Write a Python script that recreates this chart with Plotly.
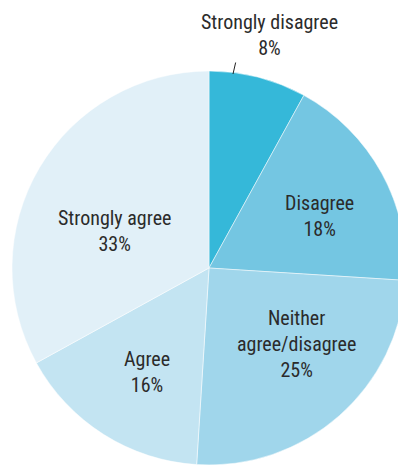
import plotly.graph_objects as go

labels = ["Strongly disagree", "Disagree", "Neither<br>agree/disagree", "Agree", "Strongly agree"]
values = [8, 18, 25, 16, 33]
colors = ["#35b8d9", "#74c6e2", "#a0d6eb", "#c3e4f2", "#e1f0f8"]

W, H = 406, 466
FONT = "Roboto Condensed, DejaVu Sans Condensed, sans-serif"

# label block centres in pixels (layout only)
label_px = [(269, 35), (319, 216), (296, 344), (147, 372), (114, 231)]

fig = go.Figure(
    go.Pie(
        labels=labels,
        values=values,
        sort=False,
        direction="clockwise",
        rotation=0,
        marker=dict(colors=colors, line=dict(color="white", width=0.5)),
        textinfo="none",
        showlegend=False,
        hoverinfo="skip",
        domain=dict(x=[12 / W, 1.0], y=[(H - 465) / H, (H - 71) / H]),
    )
)

for lab, val, (px, py) in zip(labels, values, label_px):
    fig.add_annotation(
        x=px / W, y=(H - py) / H, xref="paper", yref="paper",
        xanchor="center", yanchor="middle",
        text=f"{lab}<br>{val}%", showarrow=False,
        font=dict(family=FONT, size=20, color="#2b2b2b", weight=400),
    )

# leader line for the small slice
fig.add_annotation(
    x=233 / W, y=(H - 74) / H, xref="paper", yref="paper",
    ax=3, ay=-13, axref="pixel", ayref="pixel",
    showarrow=True, arrowhead=0, arrowwidth=1, arrowcolor="#222222",
    text="",
)

fig.update_layout(
    width=W, height=H,
    margin=dict(l=0, r=0, t=0, b=0),
    paper_bgcolor="white", plot_bgcolor="white",
)

fig.write_html(
    "out.html",
    config={"displayModeBar": False},
    post_script="document.body.style.margin='0';document.body.style.overflow='hidden';",
)
